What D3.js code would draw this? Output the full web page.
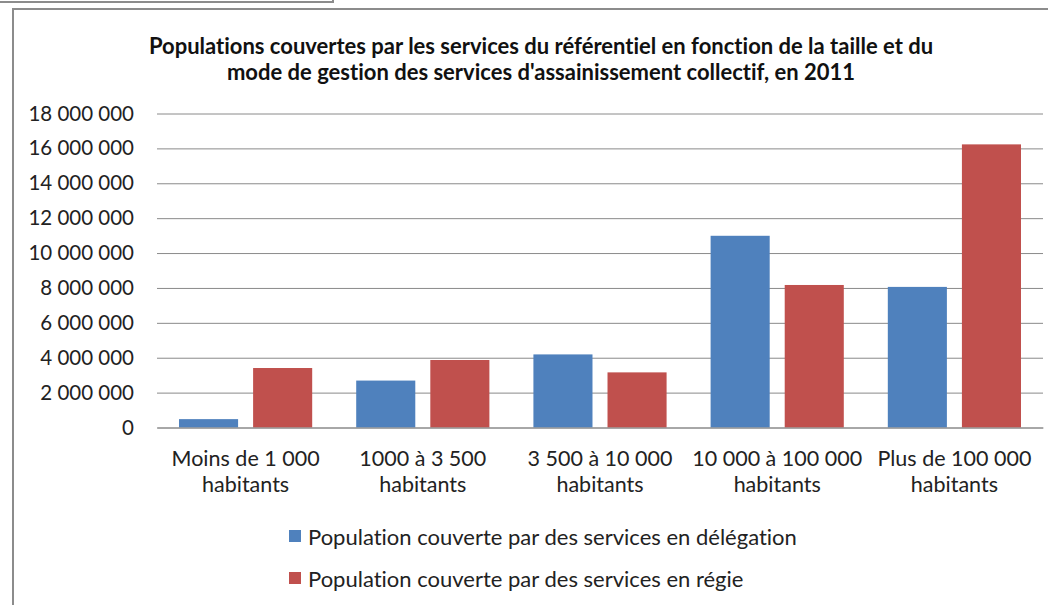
<!DOCTYPE html>
<html lang="fr">
<head>
    <meta charset="UTF-8">
    <title>Populations couvertes - assainissement collectif 2011</title>
    <script src="https://d3js.org/d3.v7.min.js"></script>
    <style>
        body {
            margin: 0;
            background-color: #ffffff;
            font-family: Lato, "Open Sans", sans-serif;
        }
        svg text {
            font-variant-ligatures: none;
        }
        .tick-label {
            font-size: 20.5px;
            fill: #222;
        }
        .cat-label {
            font-size: 21.5px;
            fill: #222;
        }
        .title {
            font-size: 22px;
            font-weight: bold;
            fill: #111;
        }
        .legend-label {
            font-size: 22px;
            fill: #222;
        }
    </style>
</head>
<body>
    <svg id="chart" width="1048" height="605"></svg>

    <script>
        // categories (each label is drawn on two lines)
        const categories = [
            "Moins de 1 000 habitants",
            "1000 à 3 500 habitants",
            "3 500 à 10 000 habitants",
            "10 000 à 100 000 habitants",
            "Plus de 100 000 habitants"
        ];
        const categoryLines = [
            ["Moins de 1 000", "habitants"],
            ["1000 à 3 500", "habitants"],
            ["3 500 à 10 000", "habitants"],
            ["10 000 à 100 000", "habitants"],
            ["Plus de 100 000", "habitants"]
        ];

        const seriesNames = [
            "Population couverte par des services en délégation",
            "Population couverte par des services en régie"
        ];
        const delegation = [480000, 2690000, 4190000, 10990000, 8060000];
        const regie = [3410000, 3870000, 3160000, 8170000, 16230000];
        const colors = ["#4F81BD", "#C0504D"];

        const yTicks = [0, 2000000, 4000000, 6000000, 8000000, 10000000,
                        12000000, 14000000, 16000000, 18000000];

        const titleLines = [
            "Populations couvertes par les services du référentiel en fonction de la taille et du",
            "mode de gestion des services d'assainissement collectif, en 2011"
        ];

        const data = categories.map((c, i) => ({
            cat: c,
            values: [delegation[i], regie[i]]
        }));

        const svg = d3.select("#chart");

        // frames
        svg.append("path")
            .attr("d", "M0,2 H333 V-1")
            .attr("fill", "none")
            .attr("stroke", "#8c8c8c")
            .attr("stroke-width", 2);
        svg.append("path")
            .attr("d", "M13,620 V9 H1060")
            .attr("fill", "none")
            .attr("stroke", "#8c8c8c")
            .attr("stroke-width", 2);

        const plotLeft = 157, plotRight = 1043, plotTop = 113.5, plotBottom = 427.5;

        const y = d3.scaleLinear()
            .domain([0, 18000000])
            .range([plotBottom, plotTop]);

        const x0 = d3.scaleBand()
            .domain(categories)
            .range([plotLeft, plotRight]);

        const x1 = d3.scaleBand()
            .domain([0, 1])
            .range([0, x0.bandwidth()])
            .paddingInner(0.2027)
            .paddingOuter(0.297);

        const fmt = d3.formatLocale({ decimal: ",", thousands: " ", grouping: [3], currency: ["", ""] }).format(",");

        // gridlines + y labels
        const yAxis = svg.append("g")
            .attr("transform", `translate(${plotLeft},0)`)
            .call(d3.axisLeft(y)
                .tickValues(yTicks)
                .tickSize(-(plotRight - plotLeft))
                .tickPadding(23)
                .tickFormat(fmt));
        yAxis.select(".domain").remove();
        yAxis.selectAll(".tick line")
            .attr("stroke", "#8a8a8a")
            .attr("stroke-width", 1);
        yAxis.attr("font-family", null).attr("font-size", null);
        yAxis.selectAll(".tick text")
            .attr("class", "tick-label")
            .attr("fill", null);

        // bars
        const groups = svg.append("g")
            .selectAll("g")
            .data(data)
            .join("g")
            .attr("transform", d => `translate(${x0(d.cat)},0)`);

        groups.selectAll("rect")
            .data(d => d.values.map((v, k) => ({ k, v })))
            .join("rect")
            .attr("x", d => x1(d.k))
            .attr("width", x1.bandwidth())
            .attr("y", d => y(d.v))
            .attr("height", d => y(0) - y(d.v))
            .attr("fill", d => colors[d.k]);

        // x axis line
        const xAxis = svg.append("g")
            .attr("transform", `translate(0,${plotBottom})`)
            .call(d3.axisBottom(x0).tickSize(0).tickFormat(""));
        xAxis.select(".domain").attr("stroke", "#8a8a8a");

        // category labels
        categories.forEach((c, i) => {
            const cx = x0(c) + x0.bandwidth() / 2;
            const t = svg.append("text")
                .attr("class", "cat-label")
                .attr("text-anchor", "middle")
                .attr("x", cx)
                .attr("y", 466);
            categoryLines[i].forEach((line, j) => {
                t.append("tspan")
                    .attr("x", cx)
                    .attr("dy", j === 0 ? 0 : 26)
                    .text(line);
            });
        });

        // title
        titleLines.forEach((line, i) => {
            svg.append("text")
                .attr("class", "title")
                .attr("text-anchor", "middle")
                .attr("x", 541)
                .attr("y", 54 + i * 26)
                .text(line);
        });

        // legend
        seriesNames.forEach((name, i) => {
            const ly = 530 + i * 42;
            svg.append("rect")
                .attr("x", 289)
                .attr("y", ly)
                .attr("width", 12)
                .attr("height", 12)
                .attr("fill", colors[i]);
            svg.append("text")
                .attr("class", "legend-label")
                .attr("x", 308)
                .attr("y", ly + 15)
                .text(name);
        });
    </script>
</body>
</html>
